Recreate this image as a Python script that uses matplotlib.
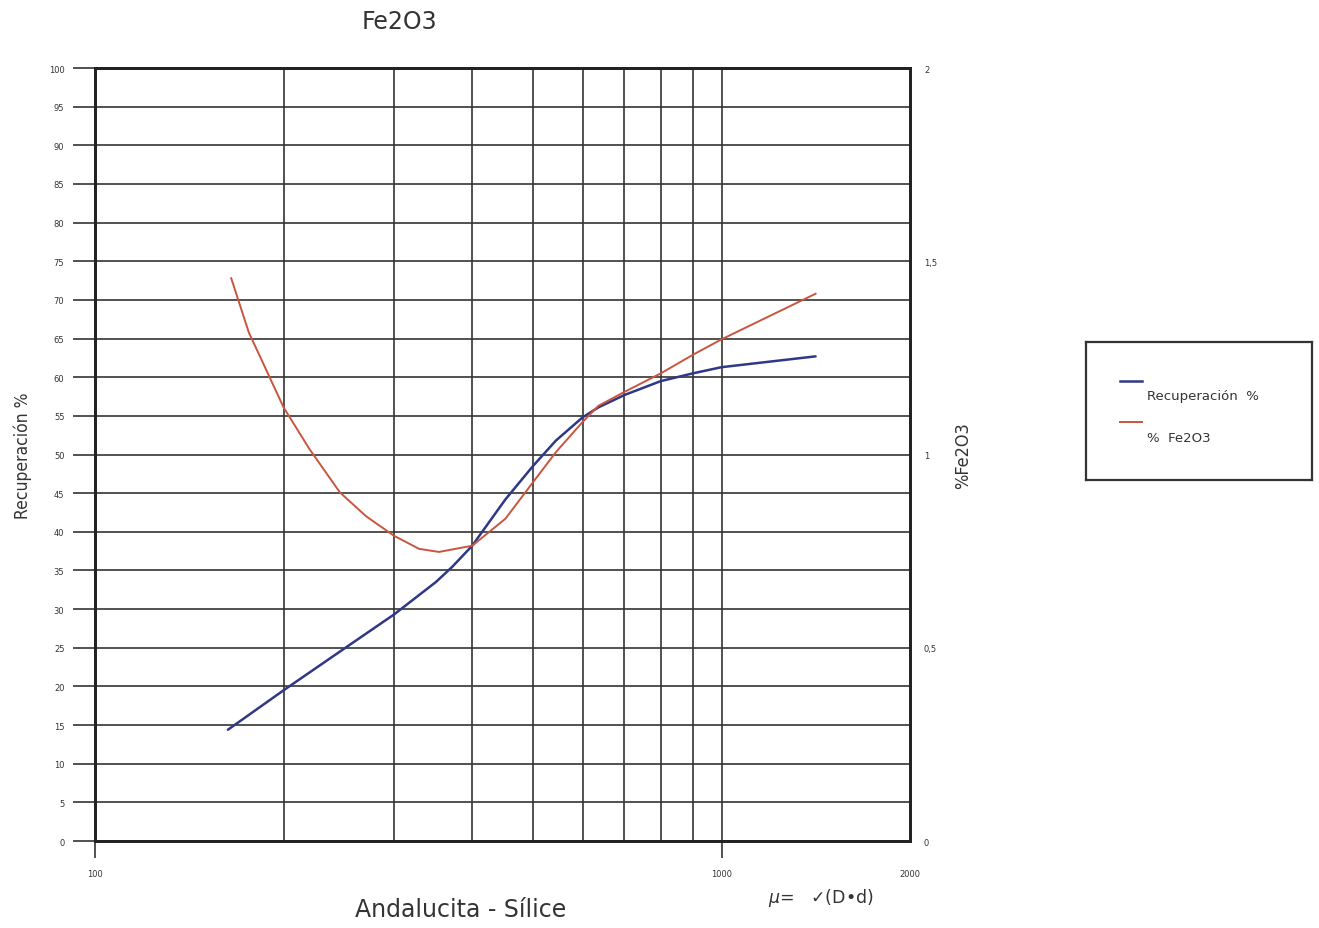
#! /usr/bin/env python
# -*- coding: utf-8 -*-
"""
Recuperacion y % Fe2O3 frente al tamano de particula (Andalucita - Silice)
"""
import numpy as np
import matplotlib
matplotlib.use('Agg')
import matplotlib.pyplot as plt
from matplotlib.lines import Line2D

## Data

# Recuperacion % (eje izquierdo)
recup_mu  = [163, 200, 250, 300, 350, 372, 400, 452, 500, 544, 600, 636,
             700, 800, 900, 1000, 1413]
recup_val = [14.4, 19.5, 24.9, 29.3, 33.5, 35.5, 38.2, 44.2, 48.5, 51.8,
             54.8, 56.1, 57.7, 59.5, 60.5, 61.3, 62.7]

# % Fe2O3 (eje derecho)
fe_mu  = [165, 176, 190, 200, 220, 246, 271, 300, 329, 354, 400, 452, 500,
          544, 600, 636, 700, 800, 900, 1000, 1413]
fe_val = [1.456, 1.316, 1.200, 1.122, 1.014, 0.902, 0.840, 0.790, 0.756,
          0.748, 0.764, 0.834, 0.928, 1.006, 1.084, 1.126, 1.162, 1.210,
          1.258, 1.298, 1.416]

left_ticks  = list(range(0, 101, 5))
right_ticks = [0, 0.5, 1, 1.5, 2]
right_labels = ['0', '0,5', '1', '1,5', '2']
x_grid = [200, 300, 400, 500, 600, 700, 800, 900, 1000]

col_blue = '#2f3886'
col_red  = '#c9553f'
col_grid = '#333333'
col_text = '#333333'


def plot_chart():
    """
    Draws both curves on a log-x grid with a twin y axis
    """
    fig = plt.figure(figsize=(13.19, 9.29), dpi=100)
    ax = fig.add_axes([0.072, 0.0936, 0.618, 0.8321])
    ax.set_xscale('log')
    ax.set_xlim(100, 2000)
    ax.set_ylim(0, 100)
    #
    # Grid
    for v in left_ticks:
        ax.axhline(v, color=col_grid, lw=1.2, zorder=1)
    for v in x_grid:
        ax.axvline(v, color=col_grid, lw=1.2, zorder=1)
    #
    # Left axis ticks
    ax.set_yticks(left_ticks)
    ax.set_yticklabels([str(v) for v in left_ticks], fontsize=6,
                       color=col_text)
    ax.tick_params(axis='y', direction='out', length=16, width=1.2,
                   color=col_grid, pad=6)
    ax.set_xticks([100, 1000, 2000])
    ax.set_xticklabels(['100', '1000', '2000'], fontsize=6, color=col_text)
    ax.xaxis.set_minor_locator(plt.NullLocator())
    ax.tick_params(axis='x', direction='out', length=12, width=1.2,
                   color=col_grid, pad=8)
    ax.xaxis.get_major_ticks()[2].tick1line.set_visible(False)
    for sp in ax.spines.values():
        sp.set_linewidth(2.0)
        sp.set_color('#222222')
    #
    # Recuperacion %
    ax.plot(recup_mu, recup_val, color=col_blue, lw=1.8, zorder=3,
            solid_capstyle='round', solid_joinstyle='round')
    ax.set_ylabel('Recuperación %', fontsize=12.5, color=col_text,
                  family='DejaVu Sans', stretch='condensed', labelpad=12)
    #
    # % Fe2O3 on the right axis
    ax2 = ax.twinx()
    ax2.set_ylim(0, 2)
    ax2.plot(fe_mu, fe_val, color=col_red, lw=1.4, zorder=4,
             solid_joinstyle='round')
    ax2.set_yticks(right_ticks)
    ax2.set_yticklabels(right_labels, fontsize=6, color=col_text)
    ax2.tick_params(axis='y', length=0, pad=10)
    ax2.set_ylabel('%Fe2O3', fontsize=13, color=col_text,
                   family='DejaVu Sans', stretch='condensed', labelpad=12)
    for sp in ax2.spines.values():
        sp.set_linewidth(2.0)
        sp.set_color('#222222')
    #
    # Titles
    fig.text(0.303, 0.976, 'Fe2O3', fontsize=17, color=col_text,
             ha='center', va='center')
    fig.text(0.349, 0.020, 'Andalucita - Sílice', fontsize=17,
             color=col_text, ha='center', va='center')
    fig.text(0.622, 0.033, r'$\mu$=   ✓(D•d)', fontsize=12.5,
             color=col_text, ha='center', va='center')
    #
    # Legend box
    lg = fig.add_axes([0.8230, 0.4823, 0.1720, 0.1485])
    lg.set_xlim(0, 1)
    lg.set_ylim(0, 1)
    lg.set_xticks([])
    lg.set_yticks([])
    for sp in lg.spines.values():
        sp.set_linewidth(1.6)
        sp.set_color('#333333')
    lg.add_line(Line2D([0.15, 0.25], [0.72, 0.72], color=col_blue, lw=1.8))
    lg.add_line(Line2D([0.15, 0.25], [0.42, 0.42], color=col_red, lw=1.4))
    lg.text(0.27, 0.61, 'Recuperación  %', fontsize=9.5, color=col_text,
            va='center')
    lg.text(0.27, 0.31, '%  Fe2O3', fontsize=9.5, color=col_text,
            va='center')
    #
    fig.savefig('out.png', dpi=100, facecolor='white')


def main():
    """
    Main function
    """
    plot_chart()


if __name__ == '__main__':
    main()
